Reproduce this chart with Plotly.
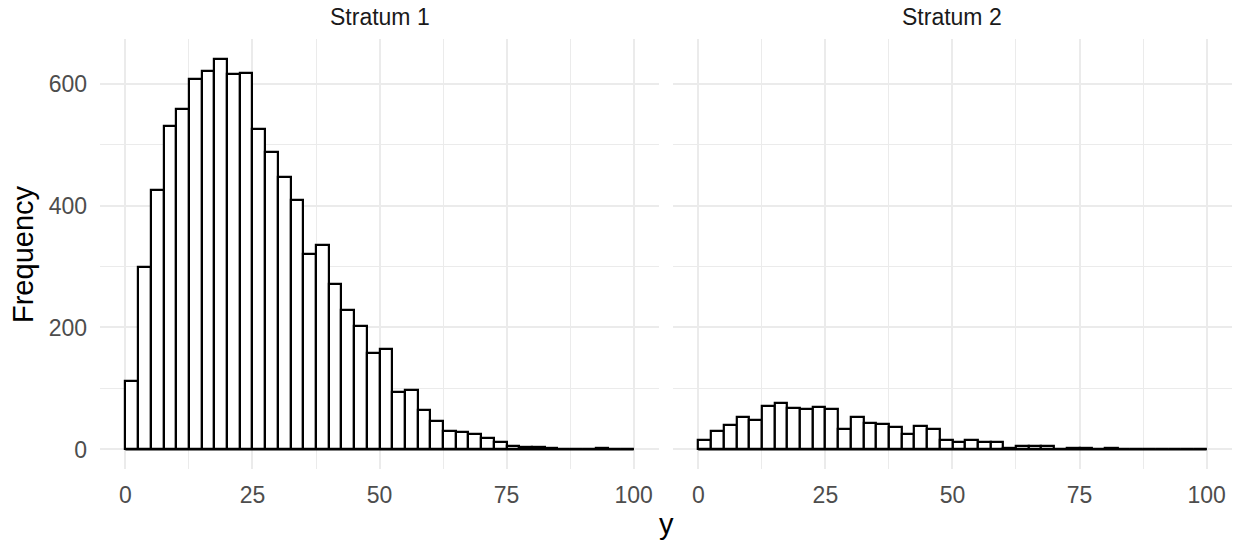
import plotly.graph_objects as go

bin_width = 2.5
bin_edges = [i * bin_width for i in range(41)]
bin_centers = [e + bin_width / 2 for e in bin_edges[:-1]]

stratum1_counts = [112, 299, 425, 530, 558, 608, 621, 641, 615, 617,
                   525, 487, 446, 409, 321, 336, 272, 228, 203, 158,
                   165, 95, 97, 64, 46, 30, 29, 25, 18, 12,
                   6, 4, 4, 2, 1, 0, 1, 2, 1, 1]
stratum2_counts = [15, 31, 40, 53, 49, 71, 76, 68, 66, 70,
                   66, 34, 54, 44, 41, 37, 25, 38, 33, 16,
                   13, 16, 13, 12, 2, 5, 6, 5, 1, 2,
                   2, 1, 2, 0, 0, 0, 0, 0, 0, 0]
panel_titles = ["Stratum 1", "Stratum 2"]
x_ticks = [0, 25, 50, 75, 100]
y_ticks = [0, 200, 400, 600]

FONT = "Liberation Sans"
GRID = "#EBEBEB"
LW = 2.2

fig = go.Figure()
for i, counts in enumerate([stratum1_counts, stratum2_counts]):
    xa = "x" if i == 0 else "x2"
    ya = "y" if i == 0 else "y2"
    fig.add_trace(go.Scatter(x=[bin_edges[0], bin_edges[-1]], y=[0, 0], mode="lines",
                             line=dict(color="black", width=LW), xaxis=xa, yaxis=ya,
                             showlegend=False, hoverinfo="skip"))
    fig.add_trace(go.Bar(x=bin_centers, y=counts, width=bin_width,
                         marker=dict(color="white", line=dict(color="black", width=LW)),
                         xaxis=xa, yaxis=ya, showlegend=False))

ymax = max(stratum1_counts + stratum2_counts)
yr = [-0.05 * ymax, 1.05 * ymax]

xaxis_common = dict(range=[-5, 105], tickvals=x_ticks, ticktext=[str(v) for v in x_ticks],
                    showgrid=True, gridcolor=GRID, gridwidth=2.2, zeroline=False,
                    showline=False, ticks="", ticklabelstandoff=10,
                    tickfont=dict(family=FONT, size=23, color="#4D4D4D"),
                    minor=dict(tick0=0, dtick=12.5, showgrid=True, gridcolor=GRID, gridwidth=1.1),
                    fixedrange=True)
yaxis_common = dict(range=yr, tickvals=y_ticks, showgrid=True, gridcolor=GRID, gridwidth=2.2,
                    zeroline=False, showline=False, ticks="",
                    tickfont=dict(family=FONT, size=23, color="#4D4D4D"),
                    minor=dict(tick0=0, dtick=100, showgrid=True, gridcolor=GRID, gridwidth=1.1),
                    fixedrange=True)

fig.update_layout(
    width=1235, height=546,
    margin=dict(l=100, r=3, t=39, b=77),
    paper_bgcolor="white", plot_bgcolor="white",
    bargap=0,
    xaxis=dict(domain=[0, 0.4939], anchor="y", **xaxis_common),
    xaxis2=dict(domain=[0.5061, 1], anchor="y2", **xaxis_common),
    yaxis=dict(domain=[0, 1], anchor="x", showticklabels=True, ticklabelstandoff=12, **yaxis_common),
    yaxis2=dict(domain=[0, 1], anchor="x2", showticklabels=False, **yaxis_common),
    annotations=[
        dict(text=panel_titles[0], x=0.24695, y=1, xref="paper", yref="paper",
             xanchor="center", yanchor="middle", yshift=22, showarrow=False,
             font=dict(family=FONT, size=23, color="#1A1A1A")),
        dict(text=panel_titles[1], x=0.75305, y=1, xref="paper", yref="paper",
             xanchor="center", yanchor="middle", yshift=22, showarrow=False,
             font=dict(family=FONT, size=23, color="#1A1A1A")),
        dict(text="y", x=0.5, y=0, xref="paper", yref="paper", xanchor="center",
             yanchor="middle", yshift=-55, showarrow=False,
             font=dict(family=FONT, size=29, color="black")),
        dict(text="Frequency", x=0, y=0.5, xref="paper", yref="paper", xanchor="center",
             yanchor="middle", xshift=-77, textangle=-90, showarrow=False,
             font=dict(family=FONT, size=29, color="black")),
    ],
)

fig.write_html("out.html")
